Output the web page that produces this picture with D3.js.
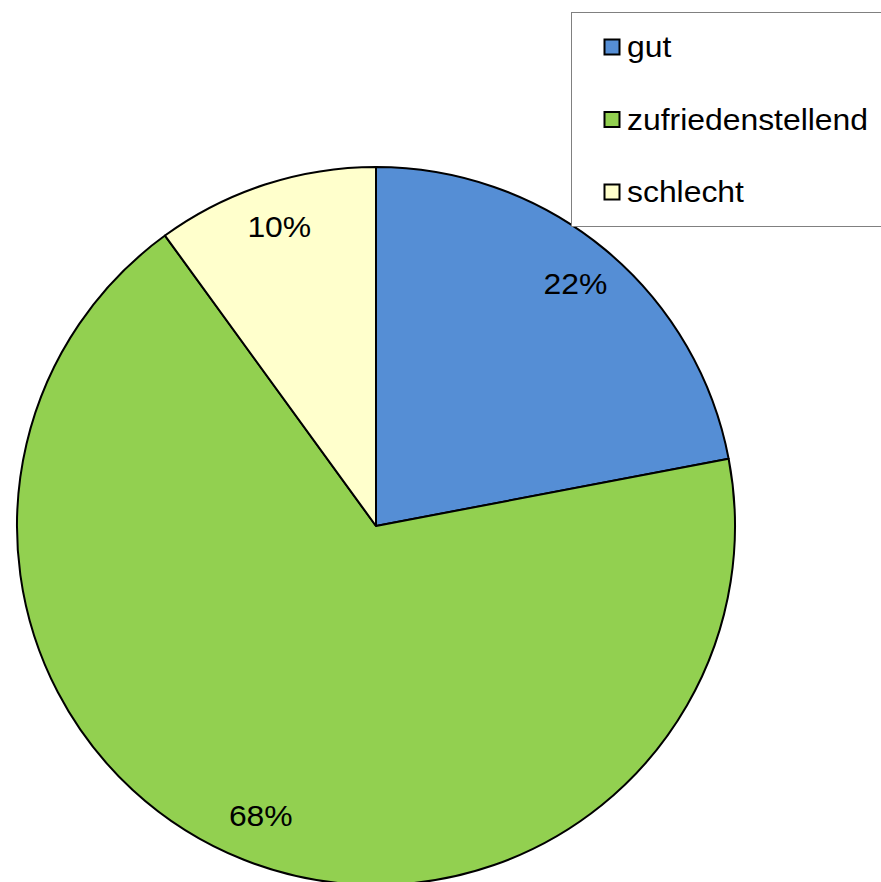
<!DOCTYPE html>
<html>
<head>
<meta charset="utf-8">
<script src="https://cdn.jsdelivr.net/npm/d3@7"></script>
<style>
  body { margin: 0; background: #fff; }
  text { font-family: "Liberation Sans", Arial, sans-serif; }
</style>
</head>
<body>
<div id="chart"></div>
<script>
const categories = ["gut", "zufriedenstellend", "schlecht"]
const values = [22, 68, 10]
const colors = ["#558ED5", "#92D050", "#FFFFCC"]

const width = 881
const height = 882
const cx = 376, cy = 526, radius = 359
const fontSize = 29
const stretch = 1.1   // reference text is a bit wide

let svg = d3.select("#chart")
    .append("svg")
    .attr("width", width)
    .attr("height", height)

let data = categories.map((c, i) => ({name: c, value: values[i], color: colors[i]}))

const pie = d3.pie()
    .sort(null)
    .value(d => d.value)

const arc = d3.arc()
    .innerRadius(0)
    .outerRadius(radius)

const labelArc = d3.arc()
    .innerRadius(313)
    .outerRadius(313)

let g = svg.append("g")
    .attr("transform", `translate(${cx},${cy})`)

g.selectAll("path.slice")
    .data(pie(data))
    .join("path")
    .attr("class", "slice")
    .attr("d", arc)
    .attr("fill", d => d.data.color)
    .attr("stroke", "#000")
    .attr("stroke-width", 2)
    .attr("stroke-linejoin", "round")

g.selectAll("text.lbl")
    .data(pie(data))
    .join("text")
    .attr("class", "lbl")
    .attr("transform", d => `translate(${labelArc.centroid(d)}) scale(${stretch},1)`)
    .attr("text-anchor", "middle")
    .attr("dy", "0.3em")
    .attr("font-size", fontSize)
    .attr("fill", "#000")
    .text(d => d.data.value + "%")

// legend
let legend = svg.append("g")
legend.append("rect")
    .attr("x", 571.5)
    .attr("y", 12.5)
    .attr("width", 330)
    .attr("height", 214)
    .attr("fill", "#fff")
    .attr("stroke", "#808080")
    .attr("stroke-width", 1)

let items = legend.selectAll("g.item")
    .data(data)
    .join("g")
    .attr("class", "item")
    .attr("transform", (d, i) => `translate(604,${47 + i * 72.5})`)

items.append("rect")
    .attr("x", 0.5)
    .attr("y", -7.5)
    .attr("width", 15)
    .attr("height", 15)
    .attr("fill", d => d.color)
    .attr("stroke", "#000")
    .attr("stroke-width", 2)

items.append("text")
    .attr("transform", `translate(23,0) scale(${stretch},1)`)
    .attr("dy", "0.35em")
    .attr("font-size", fontSize)
    .text(d => d.name)
</script>
</body>
</html>
